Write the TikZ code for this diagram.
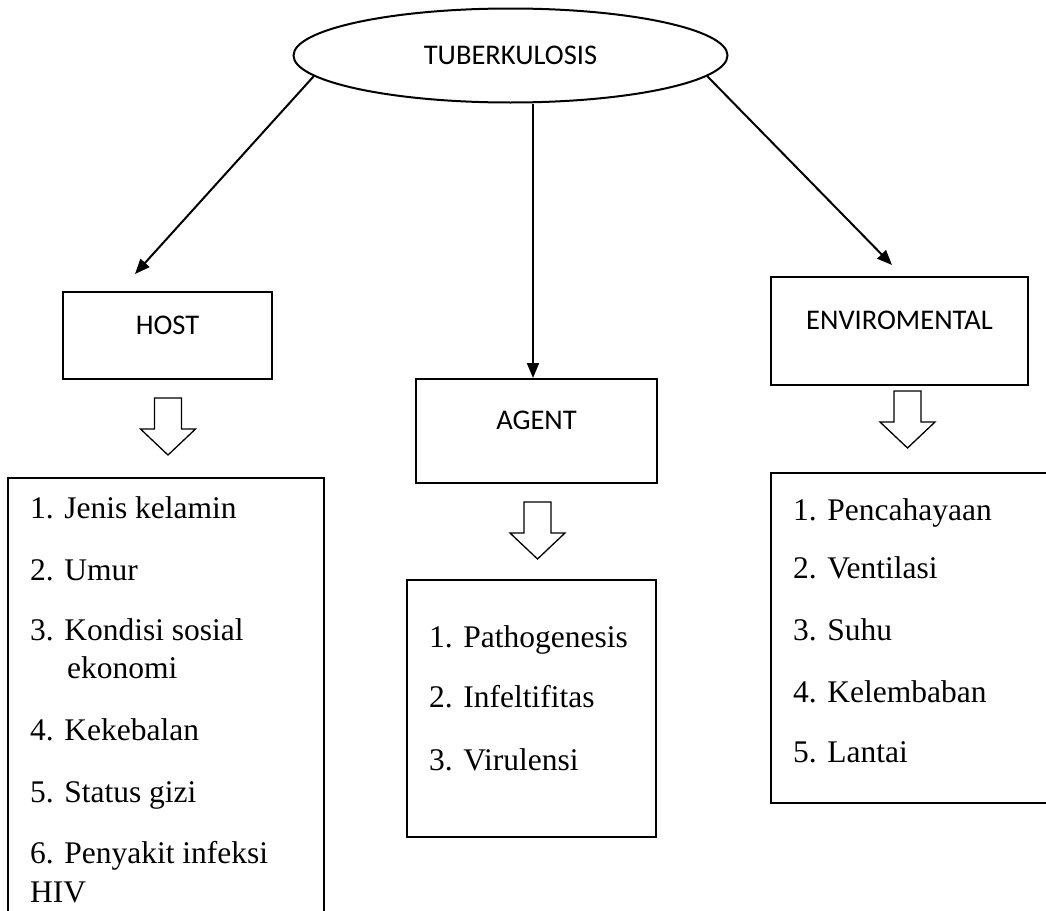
\documentclass[tikz,border=0pt]{standalone}
\usepackage{fontspec}
\setmainfont{Liberation Serif}
\newfontfamily\calfont{Carlito}
\usetikzlibrary{shapes.geometric,arrows.meta}
\begin{document}
\begin{tikzpicture}[x=1pt,y=-1pt,
  boxnode/.style={draw, line width=2pt, inner sep=0pt},
  lbl/.style={font=\calfont\fontsize{28.5}{34}\selectfont, inner sep=0pt},
  item/.style={font=\fontsize{31.5}{38}\selectfont, anchor=base west, inner sep=0pt},
  conn/.style={line width=2pt, -{Triangle[length=15pt,width=12pt]}},
  hollow/.style={draw, line width=1.3pt, fill=white, line join=miter},
  pics/hollowarrow/.style={code={
    \draw[hollow] (-13.5,0) -- (13.5,0) -- (13.5,31) -- (27.5,31) -- (0,57) -- (-27.5,31) -- (-13.5,31) -- cycle;
  }}]
\clip (0,0) rectangle (1046,910);
\fill[white] (0,0) rectangle (1046,910);

% top ellipse
\node[draw, ellipse, line width=2pt, minimum width=434pt, minimum height=94pt, inner sep=0pt,
      font=\calfont\fontsize{28.5}{34}\selectfont] (tb) at (510.5,55.5) {TUBERKULOSIS};

% category boxes
\node[boxnode, minimum width=209pt, minimum height=87pt] (host) at (167.5,335.5) {};
\node[lbl] (hostT) at (167.5,325) {HOST};
\node[boxnode, minimum width=241pt, minimum height=104pt] (agent) at (536.5,431) {};
\node[lbl] (agentT) at (536.5,420) {AGENT};
\node[boxnode, minimum width=257pt, minimum height=108pt] (env) at (899.5,331) {};
\node[lbl] (envT) at (899.5,320) {ENVIROMENTAL};

% connectors
\coordinate (hostTip) at (135,274);
\coordinate (envTip) at (892,265);
\coordinate (agentTip) at (533,378);
\draw[conn] (tb.186) -- (hostTip);
\draw[conn] (tb.354) -- (envTip);
\draw[conn] (tb.south -| agentTip) -- (agentTip);

% hollow arrows
\pic (hostArrow) at (168,398) {hollowarrow};
\pic (agentArrow) at (537.5,502) {hollowarrow};
\pic (envArrow) at (907.5,391) {hollowarrow};

% list boxes
\node[boxnode, minimum width=316pt, minimum height=452pt] (hostList) at (166,704) {};
\node[boxnode, minimum width=249pt, minimum height=257pt] (agentList) at (531.5,708.5) {};
\node[boxnode, minimum width=289pt, minimum height=330pt] (envList) at (915.5,638) {};

% host items
\node[item] (h1) at (30,518) {1. Jenis kelamin};
\node[item] (h2) at (30,580) {2. Umur};
\node[item] (h3) at (30,640) {3. Kondisi sosial};
\node[item] (h3b) at (67,678) {ekonomi};
\node[item] (h4) at (30,740) {4. Kekebalan};
\node[item] (h5) at (30,802) {5. Status gizi};
\node[item] (h6) at (30,863) {6. Penyakit infeksi};
\node[item] (h6b) at (30,902) {HIV};

% agent items
\node[item] (a1) at (429,647) {1. Pathogenesis};
\node[item] (a2) at (429,707) {2. Infeltifitas};
\node[item] (a3) at (429,770) {3. Virulensi};

% environmental items
\node[item] (e1) at (793,520) {1. Pencahayaan};
\node[item] (e2) at (793,578) {2. Ventilasi};
\node[item] (e3) at (793,640) {3. Suhu};
\node[item] (e4) at (793,702) {4. Kelembaban};
\node[item] (e5) at (793,762) {5. Lantai};
\end{tikzpicture}
\end{document}
